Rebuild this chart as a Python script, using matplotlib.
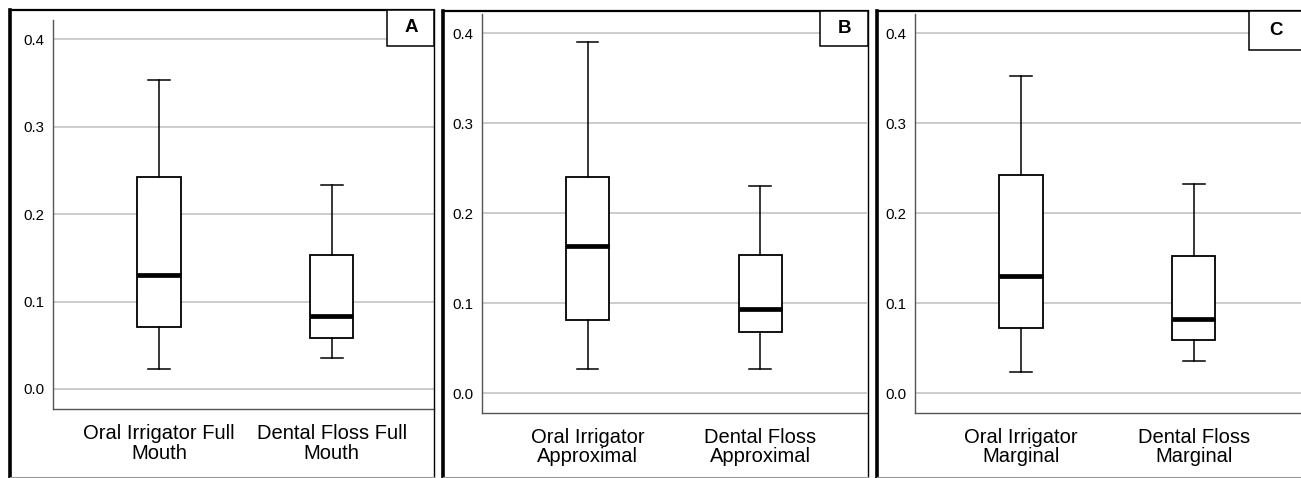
import matplotlib
matplotlib.use('Agg')
import matplotlib.pyplot as plt
from matplotlib.lines import Line2D
from matplotlib.patches import Rectangle

plt.rcParams['font.family'] = ['Liberation Sans', 'DejaVu Sans']

W, H = 1301, 478

# panel data: whisker low, Q1, median, Q3, whisker high
panel_letters = ['A', 'B', 'C']
labels_a = ['Oral Irrigator Full\nMouth', 'Dental Floss Full\nMouth']
labels_b = ['Oral Irrigator\nApproximal', 'Dental Floss\nApproximal']
labels_c = ['Oral Irrigator\nMarginal', 'Dental Floss\nMarginal']

low_a = [0.023, 0.035]
q1_a = [0.071, 0.058]
med_a = [0.130, 0.083]
q3_a = [0.243, 0.153]
high_a = [0.353, 0.233]

low_b = [0.027, 0.027]
q1_b = [0.081, 0.068]
med_b = [0.164, 0.094]
q3_b = [0.240, 0.154]
high_b = [0.390, 0.230]

low_c = [0.024, 0.036]
q1_c = [0.072, 0.059]
med_c = [0.130, 0.083]
q3_c = [0.243, 0.153]
high_c = [0.353, 0.233]

yticks = [0.0, 0.1, 0.2, 0.3, 0.4]


def px(x, y):
  return x / W, 1 - y / H


def make_stats(low, q1, med, q3, high):
  stats = []
  for i in range(len(low)):
    stats.append(dict(whislo=low[i], q1=q1[i], med=med[i], q3=q3[i], whishi=high[i], fliers=[]))
  return stats


fig = plt.figure(figsize=(W / 100, H / 100), dpi=100)

# layout in pixels: frame (left, top, right), axes (left, top, right, bottom), letter box
panels = [
  dict(frame=(9.5, 10, 434), ax=(53, 20, 434, 409), ylim=(-0.0229, 0.422), xlim=(0.386, 2.592),
       box=(387, 10, 434, 46), labels=labels_a, stats=make_stats(low_a, q1_a, med_a, q3_a, high_a)),
  dict(frame=(443.5, 11, 867.5), ax=(481.7, 14, 867.5, 412.7), ylim=(-0.0216, 0.4214), xlim=(0.386, 2.622),
       box=(820, 11, 867.5, 46), labels=labels_b, stats=make_stats(low_b, q1_b, med_b, q3_b, high_b)),
  dict(frame=(877, 11, 1302), ax=(915, 14, 1301, 412.7), ylim=(-0.0216, 0.4214), xlim=(0.386, 2.621),
       box=(1249, 11, 1302, 50), labels=labels_c, stats=make_stats(low_c, q1_c, med_c, q3_c, high_c)),
]

for letter, p in zip(panel_letters, panels):
  l, t, r, b = p['ax']
  ax = fig.add_axes([l / W, 1 - b / H, (r - l) / W, (b - t) / H])
  ax.bxp(p['stats'], positions=[1, 2], widths=0.25, capwidths=0.125, showfliers=False,
         patch_artist=True,
         boxprops=dict(facecolor='white', edgecolor='black', linewidth=1.3),
         medianprops=dict(color='black', linewidth=3.4, solid_capstyle='butt'),
         whiskerprops=dict(color='black', linewidth=1.1),
         capprops=dict(color='black', linewidth=1.1),
         zorder=3)
  ax.set_ylim(*p['ylim'])
  ax.set_xlim(*p['xlim'])
  ax.set_yticks(yticks)
  ax.set_yticklabels(['%.1f' % v for v in yticks], fontsize=10.8)
  ax.set_xticks([1, 2])
  ax.set_xticklabels(p['labels'], fontsize=14.5, linespacing=1.02)
  ax.tick_params(axis='both', length=0)
  ax.tick_params(axis='y', pad=6)
  ax.tick_params(axis='x', pad=11)
  ax.yaxis.grid(True, color='#cccccc', linewidth=1.4)
  ax.set_axisbelow(True)
  for s in ['top', 'right']:
    ax.spines[s].set_visible(False)
  for s in ['left', 'bottom']:
    ax.spines[s].set_color('#555555')
    ax.spines[s].set_linewidth(1.0)

  # outer frame
  fl, ft, fr = p['frame']
  x0, y0 = px(fl, ft)
  x1, y1 = px(fr, 477)
  fig.add_artist(Line2D([x0, x0], [y0, y1], color='black', linewidth=2.6, transform=fig.transFigure))
  fig.add_artist(Line2D([x0, x1], [y0, y0], color='black', linewidth=1.6, transform=fig.transFigure))
  fig.add_artist(Line2D([x1, x1], [y0, y1], color='black', linewidth=1.0, transform=fig.transFigure))
  fig.add_artist(Line2D([x0, x1], [y1, y1], color='#999999', linewidth=0.8, transform=fig.transFigure))

  # letter box
  bl, bt, br, bb = p['box']
  bx0, by0 = px(bl, bb)
  rect = Rectangle((bx0, by0), (br - bl) / W, (bb - bt) / H, transform=fig.transFigure,
                   facecolor='white', edgecolor='black', linewidth=1.1, zorder=5)
  fig.add_artist(rect)
  cx, cy = px((bl + min(br, 1301)) / 2 + 1, (bt + bb) / 2)
  fig.text(cx, cy, letter, fontsize=13.5, fontweight='bold', ha='center', va='center', zorder=6)

fig.savefig('out.png', dpi=100)
